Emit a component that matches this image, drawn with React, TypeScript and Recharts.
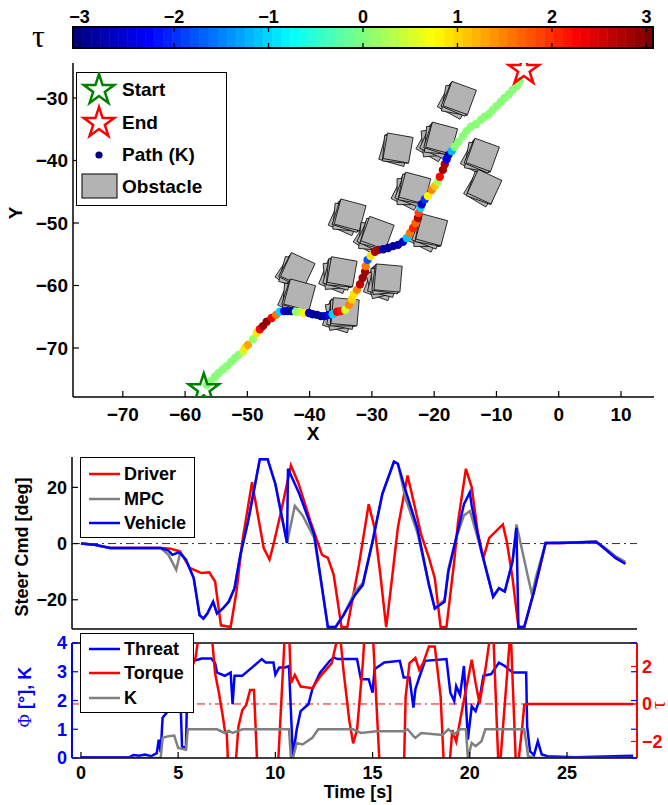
import React from 'react';
import {
  ComposedChart,
  ScatterChart,
  Scatter,
  LineChart,
  Line,
  XAxis,
  YAxis,
  ReferenceArea,
  ReferenceLine,
  Label,
} from 'recharts';

const FONT = '"Liberation Sans", Arial, Helvetica, sans-serif';
const SERIF = '"Liberation Serif", "DejaVu Serif", serif';

type Pt = [number, number];

// ---- top panel: path dots [x, y, tau] ----
const pathPts: [number, number, number][] = [
  [-56.5, -75.9, 0], [-55.9, -75.3, 0], [-55.2, -74.6, 0], [-54.6, -74.0, 0], [-53.9, -73.4, 0],
  [-53.3, -72.9, 0], [-52.6, -72.2, 0], [-52.0, -71.6, 0], [-51.4, -71.1, 0], [-50.7, -70.6, 0.4],
  [-50.4, -70.0, 0.9], [-49.9, -69.5, 1.3], [-49.1, -68.6, 0.1], [-48.5, -67.6, 0.9], [-48.0, -67.0, 2.2],
  [-47.5, -66.5, 2.8], [-46.9, -65.8, 2.9], [-46.1, -65.2, 2.3], [-45.4, -64.7, 1.6], [-44.8, -64.2, -1.0],
  [-44.1, -64.1, -2.3], [-43.5, -64.1, -2.7], [-42.9, -64.1, -2.8], [-42.2, -64.2, 0], [-41.6, -64.2, 0.2],
  [-40.9, -64.4, 0.8], [-40.1, -64.4, -2.7], [-39.5, -64.6, -2.8], [-38.8, -64.7, -2.9], [-38.2, -64.9, -2.8],
  [-37.6, -64.9, -2.7], [-36.9, -64.7, -2.2], [-36.3, -64.6, -1.0], [-35.6, -64.2, 2.3], [-35.0, -64.1, 2.1],
  [-34.3, -63.9, 0.5], [-33.7, -63.1, 1.5], [-33.2, -62.2, 1.0], [-32.9, -61.4, 0.9], [-32.4, -60.7, 1.5],
  [-31.9, -59.8, 2.6], [-31.5, -58.8, 2.8], [-31.1, -57.8, 2.8], [-31.0, -56.9, 1.6], [-30.7, -55.9, -1.8],
  [-30.2, -55.3, 0.9], [-29.5, -54.6, 2.7], [-28.9, -54.3, 2.8], [-28.2, -54.2, -2.7], [-27.4, -54.0, -2.8],
  [-26.6, -53.7, -2.8], [-25.8, -53.5, -2.7], [-25.0, -53.0, -2.6], [-24.4, -52.4, -1.1], [-23.9, -51.6, 1.6],
  [-23.4, -50.8, 2.0], [-23.0, -50.0, 1.7], [-22.6, -49.2, 2.7], [-22.5, -48.4, 1.9], [-22.2, -47.6, -1.0],
  [-22.0, -47.0, -2.6], [-21.5, -46.2, -2.0], [-21.0, -45.7, 0.8], [-20.4, -44.7, 1.5], [-19.9, -44.1, 1.1],
  [-19.4, -43.4, 0.2], [-19.1, -42.6, 2.2], [-18.6, -41.5, 2.8], [-18.3, -40.6, 2.7], [-18.0, -39.8, -2.2],
  [-17.7, -39.1, -2.6], [-17.2, -38.5, -1.2], [-16.7, -37.8, 0], [-16.1, -37.0, 0], [-15.4, -36.1, 0],
  [-14.8, -35.3, 0], [-14.1, -34.6, 0], [-13.3, -34.2, 0], [-12.5, -33.5, 0], [-11.9, -33.0, 0],
  [-11.2, -32.6, 0], [-10.6, -31.9, 0], [-10.0, -31.3, 0], [-9.3, -30.6, 0], [-8.7, -30.0, 0],
  [-8.0, -29.4, 0], [-7.4, -28.7, 0], [-6.7, -28.1, 0], [-6.3, -27.3, 0],
];

// obstacles [x, y, angle(deg), copies]
const obstacles: [number, number, number, number][] = [
  [-15.9, -30.0, 20, 4], [-25.8, -38.0, 10, 3], [-18.8, -36.4, 15, 6], [-12.2, -39.1, 20, 4],
  [-11.9, -44.2, 25, 3], [-23.1, -44.4, 15, 5], [-33.5, -48.7, 15, 4], [-29.1, -51.6, 20, 5],
  [-20.4, -51.1, 15, 5], [-41.9, -57.5, 25, 4], [-34.8, -57.8, 10, 5], [-27.4, -58.8, 5, 6],
  [-41.6, -61.5, 15, 4], [-34.3, -64.2, 5, 5],
];

const startPt = { x: -57.0, y: -76.6 };
const endPt = { x: -5.6, y: -25.5 };

const xTicksTop = [-70, -60, -50, -40, -30, -20, -10, 0, 10];
const yTicksTop = [-70, -60, -50, -40, -30];
const cbTicks = [-3, -2, -1, 0, 1, 2, 3];

// ---- middle panel: steering [t, deg] ----
const driverPts: Pt[] = [
  [0, 0], [0.7, -0.4], [1.5, -1.6], [4.1, -1.6], [4.6, -1.8], [5.1, -2.8], [5.6, -8.7], [6.2, -10.5],
  [6.6, -10.2], [6.9, -13.5], [7.2, -29.1], [7.7, -29.7], [8.0, -17.1], [8.3, 0.8], [8.8, 21.8], [9.0, 14],
  [9.4, -1.6], [9.7, -5.7], [9.9, -0.4], [10.3, 11.6], [10.8, 27.8], [11.2, 21.2], [11.8, 8], [12.4, -4],
  [12.7, -5.1], [13.0, -11.1], [13.4, -29.7], [13.7, -29.7], [14.3, -7.5], [14.8, 14], [15.1, 5.6],
  [15.4, -11.1], [15.7, -29.7], [15.9, -18.3], [16.3, 5.6], [16.8, 24.2], [17.1, 15.2], [17.5, 3.2],
  [17.9, -5.1], [18.2, -12.3], [18.5, -29.7], [18.8, -29.7], [19.2, -6.3], [19.4, 8], [19.8, 26.6],
  [20.1, 20], [20.4, 4.4], [20.7, -5.1], [21.0, 2], [21.7, 6.8], [21.9, 0.8], [22.2, -12.3], [22.5, -29.7],
  [22.8, -29.7], [23.3, -17.1], [23.9, 0.2], [24.6, 0.2], [26.5, 0.6], [26.9, -1.6], [27.5, -5.1], [28.0, -7.2],
];
const mpcPts: Pt[] = [
  [0, 0], [0.7, -0.4], [1.5, -1.6], [4.1, -1.6], [4.5, -4], [4.9, -9.3], [5.1, -3.4], [5.4, -5.7],
  [5.8, -12.3], [6.1, -25.5], [6.3, -26.7], [6.5, -24.9], [6.8, -20.7], [7.0, -24.9], [7.3, -23.1],
  [7.6, -20.7], [7.9, -15.9], [8.2, -4], [8.6, 8], [9.2, 30], [9.6, 30], [10.0, 21.2], [10.6, 0.2],
  [11.0, 13.4], [11.4, 10], [12.0, 2], [12.7, -29.7], [13.1, -29.7], [13.5, -25.5], [14.1, -17], [14.5, -14],
  [15.0, 0.8], [15.5, 17.6], [16.1, 29.2], [16.3, 28.4], [16.7, 16], [17.3, 4], [17.9, -14.7], [18.2, -23.1],
  [18.7, -20], [18.9, -9], [19.3, 2], [19.7, 10], [20.0, 11.6], [20.1, 9.5], [20.6, -2.8], [21.2, -18.9],
  [21.5, -15.9], [21.8, -17.1], [22.2, -6.3], [22.4, 6.8], [23.2, -18.3], [23.4, -12], [23.9, 0.2],
  [26.5, 0.6], [26.9, -1.2], [27.5, -4.5], [28.0, -6.5],
];
const vehiclePts: Pt[] = [
  [0, 0], [0.7, -0.4], [1.5, -1.6], [2.9, -1.6], [4.1, -1.6], [4.5, -2.5], [4.7, -4], [5.0, -3.2],
  [5.1, -3.4], [5.4, -5.7], [5.8, -12.3], [6.1, -25.5], [6.3, -26.7], [6.5, -24.9], [6.8, -20.7],
  [7.0, -24.9], [7.3, -23.1], [7.6, -20.7], [7.9, -15.9], [8.2, -4], [8.6, 8], [9.2, 30], [9.6, 30],
  [10.0, 21.2], [10.6, 0.2], [10.65, 26.6], [11.2, 18.2], [12.0, 3.2], [12.7, -29.7], [13.1, -29.7],
  [13.5, -25.5], [14.1, -18.3], [14.5, -14.7], [15.0, 0.8], [15.5, 17.6], [16.1, 29.2], [16.3, 28.4],
  [16.7, 18.8], [17.3, 5.6], [17.9, -14.7], [18.2, -23.1], [18.7, -20.7], [18.9, -9.9], [19.3, 2],
  [19.7, 14], [20.0, 18.2], [20.1, 13.4], [20.6, -2.8], [21.2, -18.9], [21.5, -15.9], [21.8, -17.1],
  [22.2, -6.3], [22.4, 5.6], [22.5, -29.7], [22.8, -29.7], [23.3, -17.1], [23.9, 0.2], [24.6, 0.2],
  [26.5, 0.6], [26.9, -1.6], [27.5, -5.1], [28.0, -7.2],
];

// ---- bottom panel ----
const threatPts: Pt[] = [
  [0, 0.03], [2.5, 0.03], [2.7, 0.1], [3.0, 0.08], [3.3, 0.12], [3.6, 0.06], [3.9, 0.17], [4.0, 0.64],
  [4.1, 0.2], [4.2, 1.4], [4.4, 1.57], [4.7, 1.75], [4.9, 3.44], [5.0, 4.2], [5.1, 2.4], [5.2, 0.4],
  [5.4, 0.35], [5.5, 3.44], [5.8, 3.38], [6.2, 3.46], [6.7, 3.46], [6.9, 3.3], [7.0, 2.97], [7.4, 2.86],
  [7.7, 2.97], [7.8, 1.87], [7.9, 2.86], [8.3, 2.86], [8.7, 3.09], [9.3, 3.44], [9.5, 3.32], [9.9, 3.32],
  [10.0, 2.9], [10.2, 3.15], [10.5, 3.15], [10.7, 3.2], [10.9, 0.06], [11.1, 1.0], [11.3, 1.63],
  [11.7, 1.87], [11.9, 2.39], [12.3, 2.97], [12.8, 3.38], [13.0, 3.5], [13.2, 3.44], [14.2, 3.44],
  [14.4, 2.74], [14.8, 2.74], [15.0, 2.27], [15.1, 3.09], [15.6, 3.32], [16.4, 3.38], [16.6, 2.8],
  [16.9, 2.8], [17.1, 1.75], [17.2, 2.39], [17.4, 2.8], [17.7, 3.38], [18.8, 3.44], [19.0, 2.27],
  [19.2, 1.98], [19.3, 2.5], [19.5, 2.2], [19.7, 3.2], [19.9, 0.64], [20.1, 1.8], [20.3, 1.63],
  [20.5, 2.04], [20.7, 2.86], [21.1, 2.92], [21.5, 3.32], [21.8, 3.2], [22.2, 2.97], [22.9, 2.97],
  [22.95, 1.1], [23.1, 0.23], [23.3, 0.1], [23.5, 0.58], [23.7, 0.12], [24.0, 0.06], [25.4, 0.03],
  [27.4, 0.06], [28.4, 0.08],
];
const torquePts: Pt[] = [
  [0, 0], [4.3, 0], [5.0, 0.5], [5.5, 1.29], [5.9, 2.5], [6.1, 4], [6.7, 4], [6.9, 1.64], [7.1, 0.57],
  [7.3, -0.68], [7.4, -1.39], [7.5, -1.57], [7.6, -4], [7.9, -4], [8.1, -1.21], [8.3, -0.32], [8.5, -0.05],
  [8.7, 0.75], [8.9, 0.75], [9.1, -4], [10.1, -4], [10.5, 4], [10.7, 4], [10.8, 1.1], [11.0, 1.55],
  [11.3, 0.93], [11.9, 0.84], [12.3, 1.46], [12.9, 2.18], [13.3, 4], [13.5, 1.82], [13.8, -0.86],
  [14.0, -2.1], [14.2, -1.39], [14.5, 2.18], [14.6, 4], [15.0, 4], [15.4, -4], [16.6, -4], [16.7, 0.39],
  [16.9, 2.18], [17.2, 2.45], [17.4, 1.82], [17.6, 2.18], [17.9, 3.07], [18.2, 3.07], [18.5, 0.39],
  [18.7, -4], [18.9, -4], [19.1, -1.39], [19.3, -2.0], [19.7, 0.21], [20.1, 2.36], [20.3, 1.11],
  [20.5, 0.04], [20.8, 1.82], [21.1, 4], [21.2, 4], [21.5, -4], [22.1, 4], [22.4, -4], [22.7, -1.21],
  [22.8, -0.05], [23.0, 0], [28.4, 0],
];
const kPts: Pt[] = [
  [0, 0], [4.1, 0], [4.2, 0.7], [4.5, 0.76], [4.8, 0.78], [5.0, 0.35], [5.4, 0.29], [5.5, 1.0], [7.0, 1.0],
  [7.4, 0.87], [7.6, 0.95], [7.8, 0.87], [8.3, 1.0], [10.7, 1.0], [10.8, 0], [10.9, 0], [11.1, 0.52],
  [11.4, 0.47], [11.9, 0.7], [12.2, 1.0], [14.0, 1.0], [14.4, 0.87], [15.2, 0.93], [16.6, 0.93],
  [16.8, 1.0], [17.1, 0.76], [17.2, 0.7], [17.5, 0.87], [18.6, 0.8], [18.9, 1.0], [19.2, 0.82],
  [19.5, 1.0], [19.8, 1.0], [19.9, 0], [20.1, 0.52], [20.3, 0.41], [20.6, 0.58], [20.8, 1.0], [22.8, 1.0],
  [23.0, 0.06], [23.4, 0], [28.4, 0],
];
const timeTicks = [0, 5, 10, 15, 20, 25];

const rows = (pts: Pt[]) => pts.map(([t, v]) => ({ t, v }));

// MATLAB jet(64)
function jet(tau: number) {
  let t = Math.min(1, Math.max(0, (tau + 3) / 6));
  t = Math.round(t * 63) / 63;
  const c = (v: number) => Math.round(255 * Math.min(1, Math.max(0, v)));
  return `rgb(${c(1.5 - Math.abs(4 * t - 3))},${c(1.5 - Math.abs(4 * t - 2))},${c(1.5 - Math.abs(4 * t - 1))})`;
}

const CB_MIN = -3.07;
const CB_MAX = 3.07;
const cbBands = Array.from({ length: 64 }, (_, i) => ({
  x: CB_MIN + ((CB_MAX - CB_MIN) * (i + 0.5)) / 64,
  x1: CB_MIN + ((CB_MAX - CB_MIN) * i) / 64,
  x2: CB_MIN + ((CB_MAX - CB_MIN) * (i + 1)) / 64,
  y: 0.5,
  color: jet(-3 + (6 * i) / 63),
}));

const fmt = (v: number) => (v < 0 ? '\u2212' + Math.abs(v) : String(v));

interface TickProps {
  x?: number;
  y?: number;
  payload?: { value: number };
  m?: number;
  len?: number;
  color?: string;
  size?: number;
  mirror?: number;
}

function BottomTick({ x = 0, y = 0, payload, m = 0, len = 6, color = '#000', size = 18 }: TickProps) {
  const ay = y - m;
  return (
    <g>
      <line x1={x} x2={x} y1={ay} y2={ay - len} stroke={color} strokeWidth={1.2} />
      <text x={x} y={y} dy="0.72em" textAnchor="middle" fill={color} fontSize={size} fontWeight={700} fontFamily={FONT}>
        {fmt(payload?.value ?? 0)}
      </text>
    </g>
  );
}

function LeftTick({ x = 0, y = 0, payload, m = 0, len = 6, color = '#000', size = 18, mirror }: TickProps) {
  const ax = x + m;
  return (
    <g>
      <line x1={ax} x2={ax + len} y1={y} y2={y} stroke={color} strokeWidth={1.2} />
      {mirror !== undefined && <line x1={mirror - len} x2={mirror} y1={y} y2={y} stroke={color} strokeWidth={1.2} />}
      <text x={x} y={y} dy="0.36em" textAnchor="end" fill={color} fontSize={size} fontWeight={700} fontFamily={FONT}>
        {fmt(payload?.value ?? 0)}
      </text>
    </g>
  );
}

function RightTick({ x = 0, y = 0, payload, m = 0, len = 6, color = '#000', size = 18 }: TickProps) {
  const ax = x - m;
  return (
    <g>
      <line x1={ax - len} x2={ax} y1={y} y2={y} stroke={color} strokeWidth={1.2} />
      <text x={x} y={y} dy="0.36em" textAnchor="start" fill={color} fontSize={size} fontWeight={700} fontFamily={FONT}>
        {fmt(payload?.value ?? 0)}
      </text>
    </g>
  );
}

// colour bar tick labels (the short marks are drawn as reference segments)
function TopTick({ x = 0, y = 0, payload, size = 18 }: TickProps) {
  return (
    <text x={x} y={y - 4} textAnchor="middle" fill="#000" fontSize={size} fontWeight={700} fontFamily={FONT}>
      {fmt(payload?.value ?? 0)}
    </text>
  );
}

function starPoints(cx: number, cy: number, R: number) {
  const pts: string[] = [];
  for (let i = 0; i < 10; i++) {
    const a = ((-90 + i * 36) * Math.PI) / 180;
    const r = i % 2 === 0 ? R : R * 0.382;
    pts.push(`${cx + r * Math.cos(a)},${cy + r * Math.sin(a)}`);
  }
  return pts.join(' ');
}

const makeStar = (color: string) => (props: any) => (
  <polygon points={starPoints(props.cx, props.cy, 16)} fill="none" stroke={color} strokeWidth={2.5} strokeLinejoin="miter" />
);

const OB_SIDE = 26;
function squarePoints(cx: number, cy: number, deg: number) {
  const r = OB_SIDE / Math.SQRT2;
  const pts: string[] = [];
  for (let j = 0; j < 4; j++) {
    const a = ((deg + 45 + j * 90) * Math.PI) / 180;
    pts.push(`${cx + r * Math.cos(a)},${cy + r * Math.sin(a)}`);
  }
  return pts.join(' ');
}

function ObstacleShape(props: any) {
  const { cx, cy, payload } = props;
  const n = payload.n;
  const items = [];
  for (let k = 0; k < n; k++) {
    const d = k - (n - 1);
    items.push(
      <polygon
        key={k}
        points={squarePoints(cx + d * 1.6, cy - d * 1.2, payload.a + d * 5 * (k % 2 ? 1 : -0.6))}
        fill="#b3b3b3"
        stroke="#000"
        strokeWidth={0.8}
      />
    );
  }
  return <g>{items}</g>;
}

const DotShape = (props: any) => <circle cx={props.cx} cy={props.cy} r={4.2} fill={jet(props.payload.tau)} />;
const BandShape = () => null;

const pathData = pathPts.map(([x, y, tau]) => ({ x, y, tau }));
const obstacleData = obstacles.map(([x, y, a, n]) => ({ x, y, a, n }));

const legendText: React.CSSProperties = {
  position: 'absolute',
  fontFamily: FONT,
  fontWeight: 700,
  fontSize: 18,
  lineHeight: '24px',
  height: 24,
  whiteSpace: 'nowrap',
};

function LineLegend({ left, top, width, height, items }: {
  left: number; top: number; width: number; height: number;
  items: { label: string; color: string; y: number }[];
}) {
  return (
    <div style={{ position: 'absolute', left, top, width, height, border: '1.5px solid #000', background: '#fff', boxSizing: 'border-box' }}>
      <svg width={width} height={height} style={{ position: 'absolute', left: -1.5, top: -1.5 }}>
        {items.map((it) => (
          <line key={it.label} x1={9} x2={40} y1={it.y} y2={it.y} stroke={it.color} strokeWidth={2.5} />
        ))}
      </svg>
      {items.map((it) => (
        <div key={it.label} style={{ ...legendText, left: 43, top: it.y - 13.5 }}>{it.label}</div>
      ))}
    </div>
  );
}

export default function App() {
  return (
    <div style={{ position: 'absolute', left: 0, top: 0, width: 668, height: 805, background: '#fff', overflow: 'hidden' }}>
      {/* trajectory */}
      <div style={{ position: 'absolute', left: 0, top: 0 }}>
        <ScatterChart width={668} height={446} margin={{ top: 63, right: 14, bottom: 19, left: 13 }}>
          <XAxis
            type="number"
            dataKey="x"
            domain={[-78, 15.3]}
            ticks={xTicksTop}
            allowDataOverflow
            height={30}
            tickSize={0}
            tickMargin={10}
            tickLine={false}
            axisLine={{ stroke: '#000', strokeWidth: 1.5 }}
            tick={<BottomTick m={10} size={19} />}
          >
            <Label
              content={() => (
                <text x={313} y={433} dy="0.36em" textAnchor="middle" fontFamily={FONT} fontWeight={700} fontSize={19}>X</text>
              )}
            />
          </XAxis>
          <YAxis
            type="number"
            dataKey="y"
            domain={[-77.84, -24.4]}
            ticks={yTicksTop}
            allowDataOverflow
            width={60}
            tickSize={0}
            tickMargin={5}
            tickLine={false}
            axisLine={{ stroke: '#000', strokeWidth: 1.5 }}
            tick={<LeftTick m={5} size={19} />}
          >
            <Label
              content={() => (
                <text x={15} y={213} dy="0.36em" textAnchor="middle" transform="rotate(-90 15 213)" fontFamily={FONT} fontWeight={700} fontSize={19}>Y</text>
              )}
            />
          </YAxis>
          <Scatter data={obstacleData} shape={ObstacleShape} isAnimationActive={false} />
          <Scatter data={pathData} shape={DotShape} isAnimationActive={false} />
          <Scatter data={[startPt]} shape={makeStar('#008000')} isAnimationActive={false} />
          <Scatter data={[endPt]} shape={makeStar('#ff0000')} isAnimationActive={false} />
        </ScatterChart>
      </div>

      {/* colorbar */}
      <div style={{ position: 'absolute', left: 0, top: 0 }}>
        <ComposedChart width={668} height={60} data={cbBands} margin={{ top: 7, right: 15, bottom: 12, left: 73 }}>
          <XAxis
            type="number"
            dataKey="x"
            orientation="top"
            domain={[CB_MIN, CB_MAX]}
            ticks={cbTicks}
            height={20}
            tickSize={0}
            tickMargin={0}
            tickLine={false}
            axisLine={false}
            tick={<TopTick />}
            allowDataOverflow
          />
          <YAxis type="number" dataKey="y" domain={[0, 1]} width={0} tick={false} axisLine={false} tickLine={false} />
          {cbBands.map((b, i) => (
            <ReferenceArea key={i} x1={b.x1} x2={b.x2} y1={0} y2={1} fill={b.color} fillOpacity={1} stroke={b.color} strokeWidth={0.6} ifOverflow="visible" />
          ))}
          {cbTicks.map((t) => (
            <ReferenceLine key={`a${t}`} segment={[{ x: t, y: 1 }, { x: t, y: 0.76 }]} stroke="#000" strokeWidth={1.3} ifOverflow="visible" />
          ))}
          {cbTicks.map((t) => (
            <ReferenceLine key={`b${t}`} segment={[{ x: t, y: 0 }, { x: t, y: 0.24 }]} stroke="#000" strokeWidth={1.3} ifOverflow="visible" />
          ))}
          <ReferenceArea x1={CB_MIN} x2={CB_MAX} y1={0} y2={1} fill="none" fillOpacity={0} stroke="#000" strokeWidth={2} ifOverflow="visible" />
          <Scatter dataKey="y" shape={BandShape} isAnimationActive={false} />
        </ComposedChart>
        <div style={{ position: 'absolute', left: 32, top: 18, fontFamily: SERIF, fontSize: 32, lineHeight: '36px' }}>τ</div>
      </div>

      {/* trajectory legend */}
      <div style={{ position: 'absolute', left: 76, top: 72, width: 151, height: 134, border: '1.5px solid #000', background: '#fff', boxSizing: 'border-box' }}>
        <svg width={151} height={134} style={{ position: 'absolute', left: -1.5, top: -1.5 }}>
          <polygon points={starPoints(23, 18, 16)} fill="none" stroke="#008000" strokeWidth={2.5} />
          <polygon points={starPoints(23, 51, 16)} fill="none" stroke="#ff0000" strokeWidth={2.5} />
          <circle cx={23} cy={83} r={3.6} fill={jet(-3)} />
          <rect x={6} y={102} width={35} height={24} fill="#b3b3b3" stroke="#000" strokeWidth={1} />
        </svg>
        {[['Start', 18], ['End', 51], ['Path (K)', 83], ['Obstacle', 115]].map(([t, y]) => (
          <div key={t as string} style={{ ...legendText, fontSize: 19, left: 45, top: (y as number) - 13.5 }}>{t}</div>
        ))}
      </div>

      {/* steering */}
      <div style={{ position: 'absolute', left: 0, top: 440 }}>
        <LineChart width={668} height={200} margin={{ top: 17, right: 31, bottom: 10, left: 12 }}>
          <XAxis
            type="number"
            dataKey="t"
            domain={[-0.46, 28.6]}
            allowDataOverflow
            height={1}
            tick={false}
            tickLine={false}
            axisLine={{ stroke: '#000', strokeWidth: 1.5 }}
          />
          <YAxis
            type="number"
            domain={[-30.4, 30.8]}
            ticks={[-20, 0, 20]}
            allowDataOverflow
            width={60}
            tickSize={0}
            tickMargin={5}
            tickLine={false}
            axisLine={{ stroke: '#000', strokeWidth: 1.5 }}
            tick={<LeftTick m={5} size={18} />}
          >
            <Label
              content={() => (
                <text x={22} y={107} dy="0.36em" textAnchor="middle" transform="rotate(-90 22 107)" fontFamily={FONT} fontWeight={700} fontSize={18}>
                  Steer Cmd [deg]
                </text>
              )}
            />
          </YAxis>
          <ReferenceLine y={0} stroke="#333" strokeWidth={1} strokeDasharray="8 4 2 4" />
          <Line data={rows(driverPts)} dataKey="v" stroke="#ff0000" strokeWidth={2.5} dot={false} isAnimationActive={false} />
          <Line data={rows(mpcPts)} dataKey="v" stroke="#808080" strokeWidth={2.5} dot={false} isAnimationActive={false} />
          <Line data={rows(vehiclePts)} dataKey="v" stroke="#0000ff" strokeWidth={2.5} dot={false} isAnimationActive={false} />
        </LineChart>
      </div>
      <LineLegend
        left={80}
        top={457}
        width={115}
        height={81}
        items={[
          { label: 'Driver', color: '#ff0000', y: 17 },
          { label: 'MPC', color: '#808080', y: 42 },
          { label: 'Vehicle', color: '#0000ff', y: 66 },
        ]}
      />

      {/* threat / torque */}
      <div style={{ position: 'absolute', left: 0, top: 630 }}>
        <LineChart width={668} height={175} margin={{ top: 13, right: 0, bottom: 17, left: 32 }}>
          <XAxis
            type="number"
            dataKey="t"
            domain={[-0.46, 28.6]}
            ticks={timeTicks}
            allowDataOverflow
            height={30}
            tickSize={0}
            tickMargin={8}
            tickLine={false}
            axisLine={{ stroke: '#000', strokeWidth: 1.5 }}
            tick={<BottomTick m={8} size={18} />}
          >
            <Label
              content={() => (
                <text x={358} y={162} dy="0.36em" textAnchor="middle" fontFamily={FONT} fontWeight={700} fontSize={18}>Time [s]</text>
              )}
            />
          </XAxis>
          <YAxis
            yAxisId="l"
            type="number"
            domain={[0, 4]}
            ticks={[0, 1, 2, 3, 4]}
            allowDataOverflow
            width={40}
            tickSize={0}
            tickMargin={5}
            tickLine={false}
            axisLine={{ stroke: '#0000ff', strokeWidth: 2 }}
            tick={<LeftTick m={5} size={18} color="#0000ff" mirror={637} />}
          >
            <Label
              content={() => (
                <text x={25} y={67} dy="0.36em" textAnchor="middle" transform="rotate(-90 25 67)" fontFamily={FONT} fontWeight={700} fontSize={18} fill="#0000ff">
                  <tspan fontFamily={SERIF} fontWeight={400}>Φ</tspan> [°], K
                </text>
              )}
            />
          </YAxis>
          <YAxis
            yAxisId="r"
            orientation="right"
            type="number"
            domain={[-2.88, 3.25]}
            ticks={[-2, 0, 2]}
            allowDataOverflow
            width={31}
            tickSize={0}
            tickMargin={5}
            tickLine={false}
            axisLine={{ stroke: '#ff0000', strokeWidth: 2 }}
            tick={<RightTick m={5} size={18} color="#ff0000" />}
          >
            <Label
              content={() => (
                <text x={658} y={75} dy="0.36em" textAnchor="middle" transform="rotate(-90 658 75)" fontFamily={SERIF} fontSize={20} fill="#ff0000">τ</text>
              )}
            />
          </YAxis>
          <ReferenceLine yAxisId="l" y={4} stroke="#000" strokeWidth={1.5} />
          <ReferenceLine yAxisId="r" y={0} stroke="#ff0000" strokeWidth={1} strokeDasharray="8 4 2 4" />
          <Line yAxisId="l" data={rows(threatPts)} dataKey="v" stroke="#0000ff" strokeWidth={2.5} dot={false} isAnimationActive={false} />
          <Line yAxisId="r" data={rows(torquePts)} dataKey="v" stroke="#ff0000" strokeWidth={2.5} dot={false} isAnimationActive={false} />
          <Line yAxisId="l" data={rows(kPts)} dataKey="v" stroke="#808080" strokeWidth={2.5} dot={false} isAnimationActive={false} />
        </LineChart>
      </div>
      <LineLegend
        left={80}
        top={633}
        width={114}
        height={80}
        items={[
          { label: 'Threat', color: '#0000ff', y: 16 },
          { label: 'Torque', color: '#ff0000', y: 40 },
          { label: 'K', color: '#808080', y: 65 },
        ]}
      />
    </div>
  );
}
